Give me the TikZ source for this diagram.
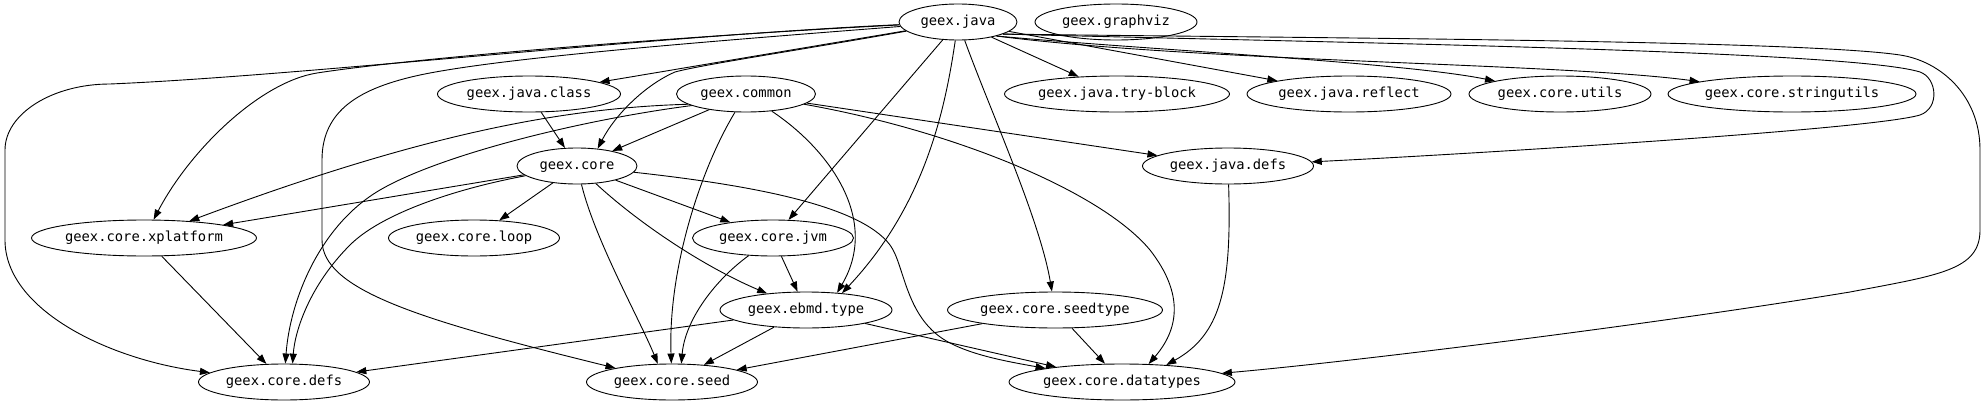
\documentclass[tikz,border=0pt]{standalone}
\usepackage{fontspec}
\newfontfamily\dmono{DejaVu Sans Mono}
\usetikzlibrary{shapes.geometric,arrows.meta}
\begin{document}
\begin{tikzpicture}[x=1pt,y=-1pt,
  nd/.style={ellipse,draw,line width=0.9pt,inner sep=0pt,minimum height=36pt,
    font=\dmono\fontsize{13.8}{16}\selectfont,text height=10pt,text depth=3pt},
  ed/.style={draw,line width=0.9pt,-{Triangle[length=10pt,width=7pt]}}]
\useasboundingbox (0,0) rectangle (1985,404);
\fill[white] (0,0) rectangle (1985,404);
% nodes
\node[nd,minimum width=118pt] (java) at (958,22) {geex.java};
\node[nd,minimum width=162pt] (graphviz) at (1116,22) {geex.graphviz};
\node[nd,minimum width=183pt] (jclass) at (529,94) {geex.java.class};
\node[nd,minimum width=139pt] (common) at (746,94) {geex.common};
\node[nd,minimum width=225pt] (tryb) at (1117,94) {geex.java.try-block};
\node[nd,minimum width=204pt] (reflect) at (1349,94) {geex.java.reflect};
\node[nd,minimum width=182pt] (utils) at (1560,94) {geex.core.utils};
\node[nd,minimum width=248pt] (strutils) at (1792,94) {geex.core.stringutils};
\node[nd,minimum width=120pt] (core) at (577,166) {geex.core};
\node[nd,minimum width=171pt] (jdefs) at (1228,166) {geex.java.defs};
\node[nd,minimum width=225pt] (xplat) at (144,238) {geex.core.xplatform};
\node[nd,minimum width=171pt] (loop) at (474,238) {geex.core.loop};
\node[nd,minimum width=161pt] (jvm) at (773,238) {geex.core.jvm};
\node[nd,minimum width=172pt] (ebmd) at (806,310) {geex.ebmd.type};
\node[nd,minimum width=215pt] (seedtype) at (1055,310) {geex.core.seedtype};
\node[nd,minimum width=171pt] (defs) at (284,382) {geex.core.defs};
\node[nd,minimum width=171pt] (seed) at (672,382) {geex.core.seed};
\node[nd,minimum width=226pt] (datatypes) at (1122,382) {geex.core.datatypes};
% edges from geex.java
\draw[ed] (java) -- (jclass);
\draw[ed] (java) .. controls (800,50) and (700,65) .. (675,72) .. controls (645,85) and (615,115) .. (core.40);
\draw[ed] (java) -- (tryb);
\draw[ed] (java) -- (reflect);
\draw[ed] (java.-20) .. controls (1150,50) and (1400,62) .. (utils);
\draw[ed] (java.-20) .. controls (1200,62) and (1560,63) .. (strutils);
\draw[ed] (java.-15) .. controls (1300,42) and (1850,50) .. (1920,72) .. controls (1937,78) and (1940,108) .. (1920,115) .. controls (1870,130) and (1450,155) .. (jdefs);
\draw[ed] (java.-15) .. controls (1300,38) and (1800,40) .. (1900,55) .. controls (1940,61) and (1980,95) .. (1980,150) -- (1980,230) .. controls (1980,270) and (1940,275) .. (1850,292) .. controls (1650,325) and (1350,362) .. (datatypes);
\draw[ed] (java) -- (jvm);
\draw[ed] (java) .. controls (945,110) and (925,205) .. (ebmd.25);
\draw[ed] (java) .. controls (990,110) and (1040,220) .. (seedtype);
\draw[ed] (java) .. controls (700,35) and (420,57) .. (317,73) .. controls (260,82) and (190,150) .. (xplat);
\draw[ed] (java) .. controls (650,36) and (300,76) .. (110,84) .. controls (52,84) and (5,114) .. (5,150) -- (5,240) .. controls (5,310) and (110,360) .. (defs);
\draw[ed] (java) .. controls (700,42) and (500,58) .. (420,75) .. controls (360,88) and (322,110) .. (322,160) -- (322,240) .. controls (322,290) and (420,320) .. (seed);
% edges from geex.common
\draw[ed] (common) -- (core);
\draw[ed] (common.190) .. controls (560,108) and (420,135) .. (xplat);
\draw[ed] (common.192) .. controls (580,120) and (440,155) .. (380,190) .. controls (320,225) and (290,300) .. (defs);
\draw[ed] (common) .. controls (700,170) and (668,270) .. (seed);
\draw[ed] (common) .. controls (830,150) and (880,220) .. (ebmd.29);
\draw[ed] (common) -- (jdefs);
\draw[ed] (common) .. controls (950,130) and (1100,190) .. (1150,250) .. controls (1185,295) and (1178,330) .. (datatypes.34);
% edges from geex.core
\draw[ed] (core) -- (xplat);
\draw[ed] (core) .. controls (450,190) and (380,215) .. (350,245) .. controls (310,285) and (295,330) .. (defs.65);
\draw[ed] (core) -- (loop);
\draw[ed] (core) -- (jvm);
\draw[ed] (core) .. controls (635,220) and (700,265) .. (ebmd);
\draw[ed] (core) .. controls (595,240) and (640,320) .. (seed.128);
\draw[ed] (core) .. controls (750,185) and (860,205) .. (890,245) .. controls (905,265) and (905,320) .. (950,343) .. controls (975,356) and (1010,362) .. (datatypes);
% other edges
\draw[ed] (jclass) -- (core);
\draw[ed] (xplat) -- (defs);
\draw[ed] (jvm) -- (ebmd);
\draw[ed] (jvm) .. controls (715,280) and (685,320) .. (seed.63);
\draw[ed] (ebmd) -- (defs);
\draw[ed] (ebmd) -- (seed);
\draw[ed] (ebmd) -- (datatypes);
\draw[ed] (seedtype) -- (seed);
\draw[ed] (seedtype) -- (datatypes);
\draw[ed] (jdefs) .. controls (1232,290) and (1220,335) .. (datatypes.21);
\end{tikzpicture}
\end{document}
